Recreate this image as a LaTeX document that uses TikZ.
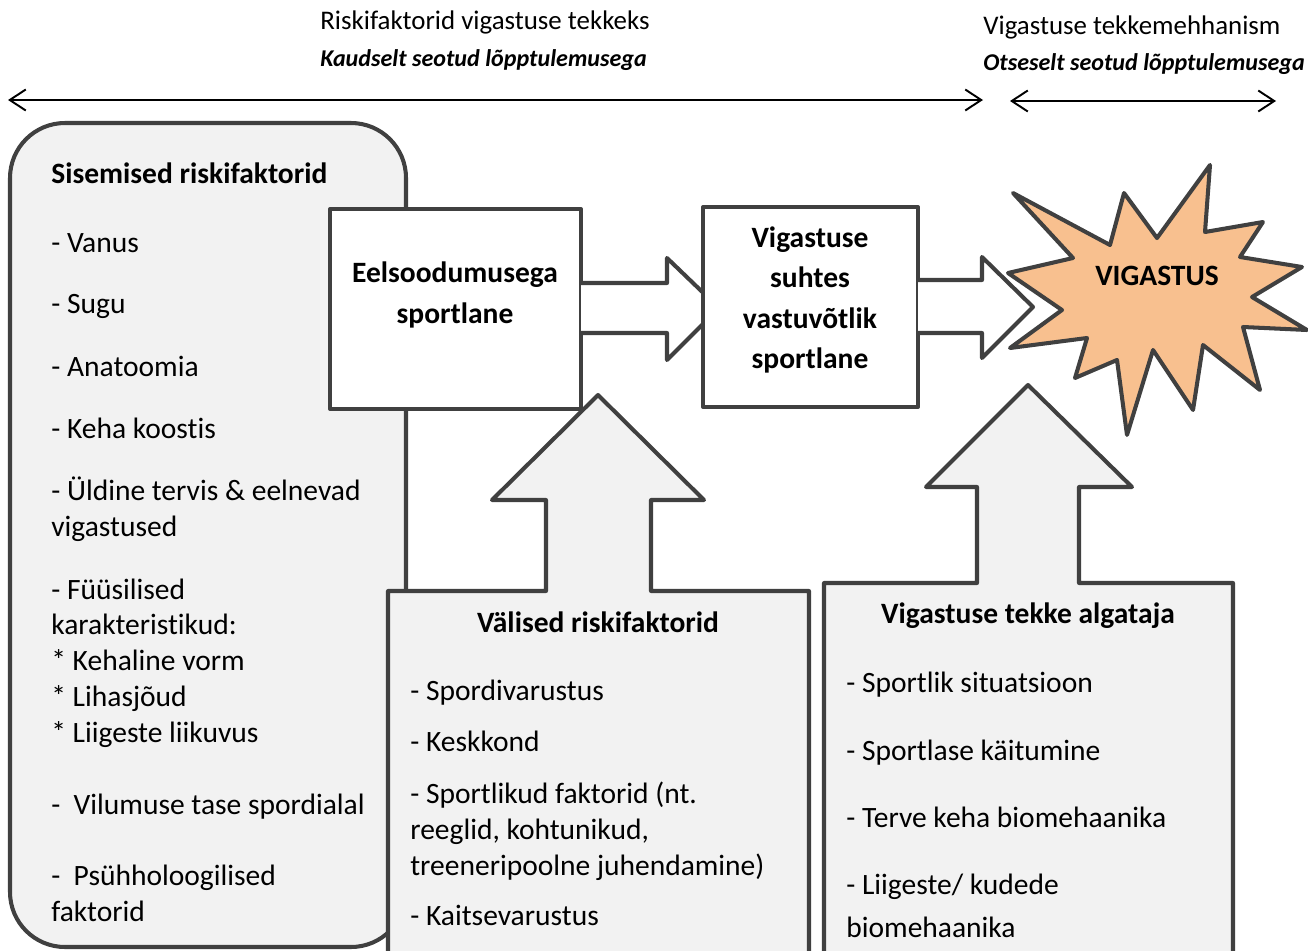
\documentclass[tikz,border=0pt]{standalone}
\usepackage{fontspec}
\setmainfont{Carlito}[Ligatures=NoCommon]
\usepackage{xcolor}
\usepackage{tikz}
\usetikzlibrary{arrows.meta}

\definecolor{edgegray}{HTML}{404040}
\definecolor{boxgray}{HTML}{F2F2F2}
\definecolor{burst}{HTML}{F8C08F}

\tikzset{
  frame/.style={draw=edgegray, line width=2.3pt, line join=round},
  item/.style={anchor=base west, inner sep=0pt, font=\fontsize{16.8}{20}\selectfont},
  head/.style={anchor=base, inner sep=0pt, font=\fontsize{16.8}{20}\selectfont\bfseries},
  toptext/.style={anchor=base west, inner sep=0pt, font=\fontsize{15.3}{18}\selectfont},
  topsub/.style={anchor=base west, inner sep=0pt, font=\fontsize{13.7}{16}\selectfont\bfseries\itshape},
  span/.style={line width=1.1pt, {Straight Barb[length=0.32cm,width=0.42cm]}-{Straight Barb[length=0.32cm,width=0.42cm]}},
}

\begin{document}
\begin{tikzpicture}[x=0.02cm, y=-0.02cm]
\clip (0,0) rectangle (1308,950);

% Top labels and time line arrows
\node[toptext] (risk) at (320,30) {Riskifaktorid vigastuse tekkeks};
\node[topsub] (kaudselt) at (320,66) {Kaudselt seotud lõpptulemusega};
\node[toptext] (mehh) at (983,34) {Vigastuse tekkemehhanism};
\node[topsub] (otseselt) at (983,70) {Otseselt seotud lõpptulemusega};
\coordinate (riskL) at (8,100);
\coordinate (riskR) at (983,100);
\coordinate (mehhL) at (1010,101);
\coordinate (mehhR) at (1276,101);
\draw[span] (riskL) -- (riskR);
\draw[span] (mehhL) -- (mehhR);

% Internal risk factors
\draw[frame, fill=boxgray, rounded corners=1.1cm] (10,123) rectangle (406,947);
\node[item, font=\fontsize{16.8}{20}\selectfont\bfseries] (sisemised) at (51,183) {Sisemised riskifaktorid};
\foreach \y/\t [count=\i] in {252/{- Vanus}, 313/{- Sugu}, 376/{- Anatoomia}, 438/{- Keha koostis},
    500/{- Üldine tervis \& eelnevad}, 536/{vigastused}, 599/{- Füüsilised}, 634/{karakteristikud:},
    670/{* Kehaline vorm}, 706/{* Lihasjõud}, 742/{* Liigeste liikuvus},
    814/{-\ \ Vilumuse tase spordialal}, 885/{-\ \ Psühholoogilised}, 921/{faktorid}}
  \node[item] (sis\i) at (51,\y) {\t};

% Predisposed athlete and arrow
\draw[frame, fill=white] (330,209) rectangle (581,409);
\node[head] (eels1) at (455,282) {Eelsoodumusega};
\node[head] (eels2) at (455,323) {sportlane};
\draw[frame, fill=white] (581,283) -- (667,283) -- (667,258) -- (719,308) -- (667,360) -- (667,333) -- (581,333);

% Susceptible athlete and arrow
\draw[frame, fill=white] (703,207) rectangle (918,407);
\node[head] (vast1) at (810,247) {Vigastuse};
\node[head] (vast2) at (810,287) {suhtes};
\node[head] (vast3) at (810,328) {vastuvõtlik};
\node[head] (vast4) at (810,368) {sportlane};
\draw[frame, fill=white] (918,280) -- (982,280) -- (982,257) -- (1033,307) -- (982,358) -- (982,333) -- (918,333);

% Injury burst
\draw[frame, fill=burst] (1013,193) -- (1110,245) -- (1124,193) -- (1157,238) -- (1210,165) -- (1205,232)
  -- (1263,222) -- (1240,257) -- (1302,267) -- (1252,297) -- (1307,330) -- (1243,327) -- (1260,390)
  -- (1203,345) -- (1193,410) -- (1153,350) -- (1127,435) -- (1117,360) -- (1075,378) -- (1087,338)
  -- (1010,348) -- (1062,310) -- (1008,273) -- (1073,258) -- cycle;
\node[head] (vigastus) at (1157,285) {VIGASTUS};

% External risk factors with up arrow
\draw[frame, fill=boxgray] (388,975) -- (388,591) -- (546,591) -- (546,500) -- (492,500) -- (598,395)
  -- (704,500) -- (651,500) -- (651,591) -- (809,591) -- (809,975);
\node[head] (valised) at (598,632) {Välised riskifaktorid};
\node[item] (val1) at (410,700) {- Spordivarustus};
\node[item] (val2) at (410,751) {- Keskkond};
\node[item] (val3) at (410,803) {- Sportlikud faktorid (nt.};
\node[item] (val4) at (410,839) {reeglid, kohtunikud,};
\node[item] (val5) at (410,875) {treeneripoolne juhendamine)};
\node[item] (val6) at (410,925) {- Kaitsevarustus};

% Inciting event with up arrow
\draw[frame, fill=boxgray] (824,975) -- (824,583) -- (977,583) -- (977,487) -- (926,487) -- (1028,385)
  -- (1132,487) -- (1079,487) -- (1079,583) -- (1233,583) -- (1233,975);
\node[head] (algataja) at (1028,623) {Vigastuse tekke algataja};
\node[item] (alg1) at (846,692) {- Sportlik situatsioon};
\node[item] (alg2) at (846,760) {- Sportlase käitumine};
\node[item] (alg3) at (846,827) {- Terve keha biomehaanika};
\node[item] (alg4) at (846,894) {- Liigeste/ kudede};
\node[item] (alg5) at (846,937) {biomehaanika};
\end{tikzpicture}
\end{document}
